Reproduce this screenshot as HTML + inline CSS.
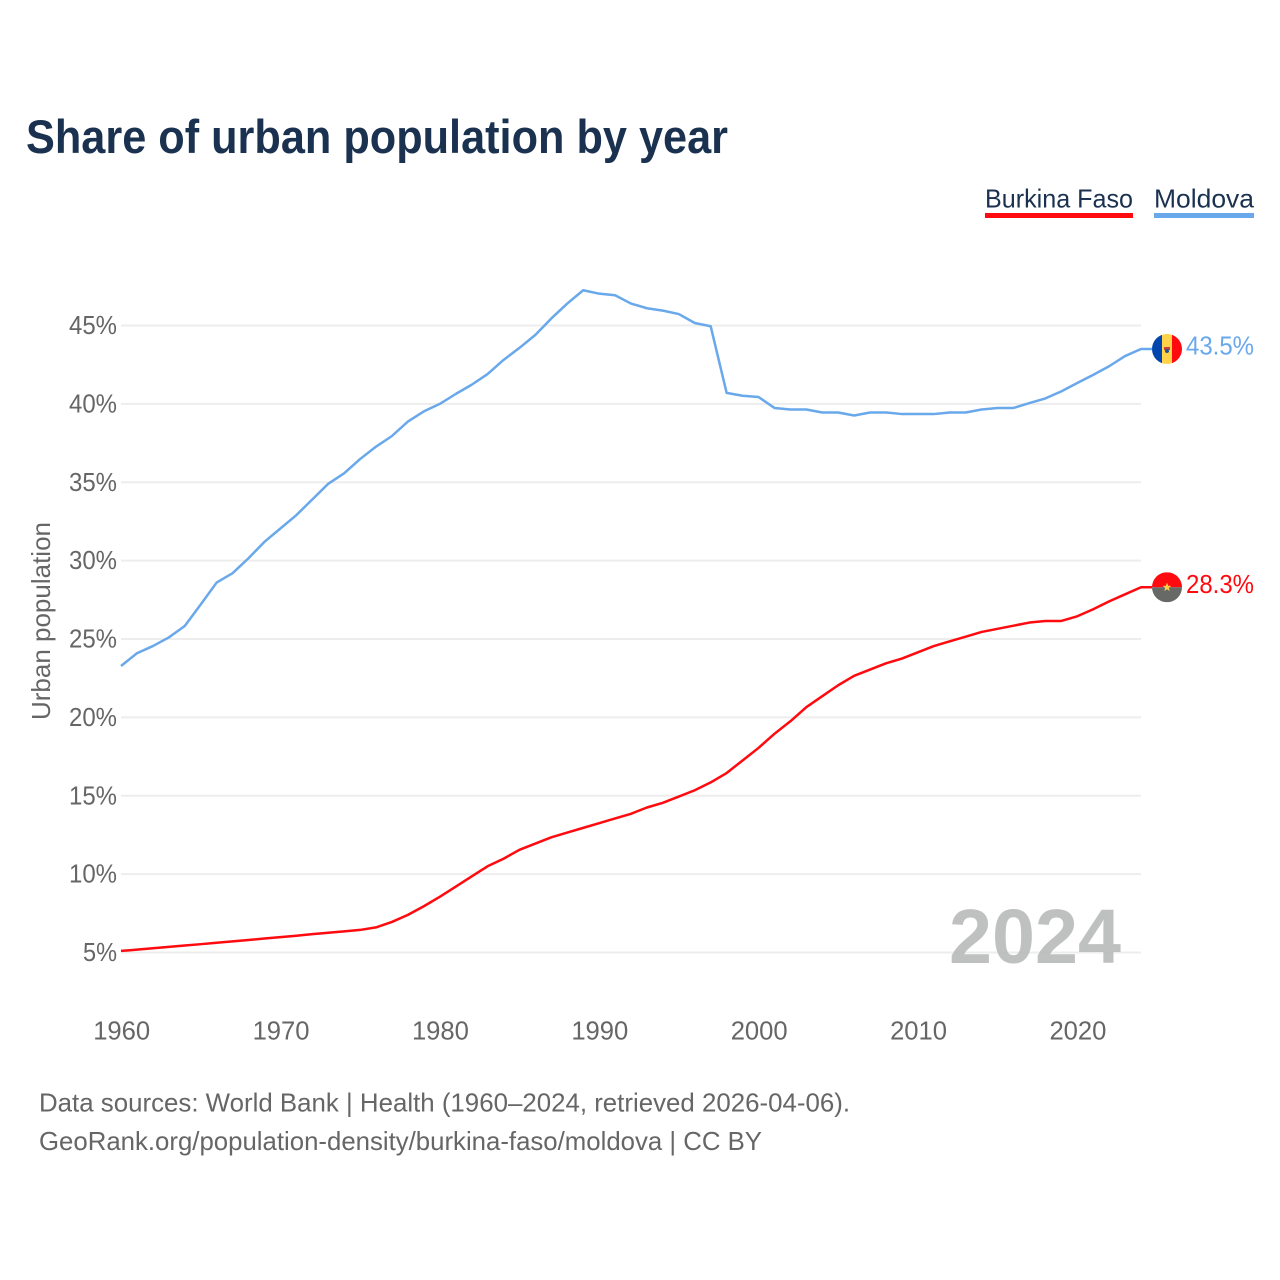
<!DOCTYPE html>
<html lang="en">
<head>
<meta charset="utf-8">
<title>Share of urban population by year</title>
<style>
html,body{margin:0;padding:0;background:#fff;}
svg{display:block;font-family:"Liberation Sans",sans-serif;}
</style>
</head>
<body>
<svg id="chart" xmlns="http://www.w3.org/2000/svg" width="1280" height="1280" viewBox="0 0 1280 1280">
  <defs>
    <clipPath id="clip-moldova"><circle id="clip-moldova-circle" r="15"></circle></clipPath>
    <clipPath id="clip-burkina"><circle id="clip-burkina-circle" r="15"></circle></clipPath>
  </defs>
  <rect x="0" y="0" width="1280" height="1280" fill="#ffffff"></rect>
  <text x="26" y="153" font-size="47" font-weight="700" fill="#1a3150" textLength="702" lengthAdjust="spacingAndGlyphs">Share of urban population by year</text>

  <g>
    <g>
      <text x="985" y="207.5" font-size="26" fill="#1a3150" textLength="148" lengthAdjust="spacingAndGlyphs">Burkina Faso</text>
      <rect x="985" y="213" width="148" height="5" fill="#ff0a0f"></rect>
    </g>
    <g>
      <text x="1154" y="207.5" font-size="26" fill="#1a3150" textLength="100" lengthAdjust="spacingAndGlyphs">Moldova</text>
      <rect x="1154" y="213" width="100" height="5" fill="#69a8eb"></rect>
    </g>
  </g>

  <g id="grid"></g>
  <g id="y-ticks"></g>
  <g id="x-ticks"></g>

  <text transform="translate(50 720) rotate(-90)" font-size="26" fill="#666666" textLength="198" lengthAdjust="spacingAndGlyphs">Urban population</text>

  <text x="1121" y="963" text-anchor="end" font-size="77" font-weight="700" fill="#b4b6b6" fill-opacity="0.85" textLength="172" lengthAdjust="spacingAndGlyphs">2024</text>

  <g id="series"></g>
  <g id="ends"></g>

  <g>
    <text x="39" y="1111.5" font-size="26" fill="#666666" textLength="811" lengthAdjust="spacingAndGlyphs">Data sources: World Bank | Health (1960–2024, retrieved 2026-04-06).</text>
    <text x="39" y="1150" font-size="26" fill="#666666" textLength="723" lengthAdjust="spacingAndGlyphs">GeoRank.org/population-density/burkina-faso/moldova | CC BY</text>
  </g>
</svg>
<script>
const years = [1960,1961,1962,1963,1964,1965,1966,1967,1968,1969,1970,1971,1972,1973,1974,1975,1976,1977,1978,1979,1980,1981,1982,1983,1984,1985,1986,1987,1988,1989,1990,1991,1992,1993,1994,1995,1996,1997,1998,1999,2000,2001,2002,2003,2004,2005,2006,2007,2008,2009,2010,2011,2012,2013,2014,2015,2016,2017,2018,2019,2020,2021,2022,2023,2024];
const moldovaValues = [23.28,24.09,24.55,25.1,25.83,27.2,28.6,29.2,30.15,31.2,32.05,32.9,33.9,34.9,35.57,36.48,37.27,37.95,38.87,39.52,40.0,40.63,41.22,41.9,42.8,43.57,44.4,45.45,46.4,47.25,47.03,46.93,46.4,46.1,45.95,45.73,45.16,44.95,40.7,40.52,40.44,39.74,39.64,39.64,39.45,39.45,39.26,39.45,39.45,39.35,39.35,39.35,39.45,39.45,39.64,39.74,39.74,40.05,40.35,40.8,41.33,41.85,42.4,43.05,43.5];
const burkinaValues = [5.1,5.18,5.27,5.36,5.45,5.53,5.62,5.71,5.8,5.89,5.98,6.07,6.17,6.26,6.35,6.44,6.6,6.95,7.4,7.95,8.55,9.2,9.85,10.5,10.98,11.55,11.95,12.35,12.65,12.95,13.25,13.55,13.85,14.25,14.55,14.95,15.35,15.85,16.45,17.25,18.05,18.95,19.75,20.65,21.35,22.05,22.65,23.05,23.45,23.75,24.15,24.55,24.85,25.15,25.45,25.65,25.85,26.05,26.15,26.15,26.45,26.9,27.4,27.85,28.3];
const yTickValues = [5,10,15,20,25,30,35,40,45];
const xTickValues = [1960,1970,1980,1990,2000,2010,2020];

const NS = 'http://www.w3.org/2000/svg';
const xScale = function (year) { return 121 + (year - 1960) * (1020 / 64); };
const yScale = function (value) { return 952.5 - (value - 5) * (627 / 40); };

function make(tag, parent, attrs, text) {
  const el = document.createElementNS(NS, tag);
  Object.keys(attrs).forEach(function (k) { el.setAttribute(k, attrs[k]); });
  if (text !== undefined) { el.textContent = text; }
  parent.appendChild(el);
  return el;
}

const gridGroup = document.getElementById('grid');
const yTickGroup = document.getElementById('y-ticks');
yTickValues.forEach(function (t) {
  const line = make('line', gridGroup, { x1: xScale(1960), x2: xScale(2024), y1: yScale(t), y2: yScale(t), stroke: '#ededed', 'stroke-width': 2 });
  
  
  const labelWidth = t < 10 ? 34 : 48;
  const label = make('text', yTickGroup, { x: 117, y: yScale(t) + 8.5, 'text-anchor': 'end', 'font-size': 26, fill: '#666666', textLength: labelWidth, lengthAdjust: 'spacingAndGlyphs' }, t + '%');
  
  
});

const xTickGroup = document.getElementById('x-ticks');
xTickValues.forEach(function (t) {
  const label = make('text', xTickGroup, { x: xScale(t) + 0.7, y: 1039.5, 'text-anchor': 'middle', 'font-size': 26, fill: '#666666', textLength: 57, lengthAdjust: 'spacingAndGlyphs' }, String(t));
  
  
});

function linePath(values) {
  return values.map(function (v, i) {
    return (i ? 'L' : 'M') + xScale(years[i]).toFixed(2) + ' ' + yScale(v).toFixed(2);
  }).join('') + 'H1152';
}

const seriesGroup = document.getElementById('series');
const burkinaLine = make('path', seriesGroup, { d: linePath(burkinaValues), fill: 'none', stroke: '#ff0a0f', 'stroke-width': 2.5, 'stroke-linejoin': 'round' });


const moldovaLine = make('path', seriesGroup, { d: linePath(moldovaValues), fill: 'none', stroke: '#69a8eb', 'stroke-width': 2.5, 'stroke-linejoin': 'round' });



const endGroup = document.getElementById('ends');
const flagX = 1167;

const moldovaEnd = moldovaValues[moldovaValues.length - 1];
const moldovaY = yScale(moldovaEnd);
const moldovaCy = moldovaY;
const moldovaClip = document.getElementById('clip-moldova-circle');
moldovaClip.setAttribute('cx', flagX);
moldovaClip.setAttribute('cy', moldovaCy);
const moldovaFlag = make('g', endGroup, { 'clip-path': 'url(#clip-moldova)' });


make('rect', moldovaFlag, { x: flagX - 15, y: moldovaCy - 15, width: 10, height: 30, fill: '#0046ae' });
make('rect', moldovaFlag, { x: flagX - 5, y: moldovaCy - 15, width: 10, height: 30, fill: '#ffd24a' });
make('rect', moldovaFlag, { x: flagX + 5, y: moldovaCy - 15, width: 10, height: 30, fill: '#ff0a0f' });
make('rect', moldovaFlag, { x: flagX - 3, y: moldovaCy - 2, width: 6, height: 3, fill: '#c8433a' });
make('circle', moldovaFlag, { cx: flagX, cy: moldovaCy + 2, r: 2, fill: '#2a4f8f' });
const moldovaLabel = make('text', endGroup, { x: 1186, y: moldovaY + 5.5, 'font-size': 26, fill: '#69a8eb', textLength: 68, lengthAdjust: 'spacingAndGlyphs' }, moldovaEnd.toFixed(1) + '%');



const burkinaEnd = burkinaValues[burkinaValues.length - 1];
const burkinaY = yScale(burkinaEnd);
const burkinaCy = burkinaY;
const burkinaClip = document.getElementById('clip-burkina-circle');
burkinaClip.setAttribute('cx', flagX);
burkinaClip.setAttribute('cy', burkinaCy);
const burkinaFlag = make('g', endGroup, { 'clip-path': 'url(#clip-burkina)' });


make('rect', burkinaFlag, { x: flagX - 15, y: burkinaCy - 15, width: 30, height: 15, fill: '#ff0a0f' });
make('rect', burkinaFlag, { x: flagX - 15, y: burkinaCy, width: 30, height: 15, fill: '#666966' });
const starR = 4.6;
const starPts = [];
for (let i = 0; i < 10; i++) {
  const r = i % 2 ? starR * 0.42 : starR;
  const a = -Math.PI / 2 + i * Math.PI / 5;
  starPts.push((flagX + r * Math.cos(a)).toFixed(2) + ',' + (burkinaCy + r * Math.sin(a)).toFixed(2));
}
make('polygon', burkinaFlag, { points: starPts.join(' '), fill: '#ffd24a' });
const burkinaLabel = make('text', endGroup, { x: 1186, y: burkinaY + 5.5, 'font-size': 26, fill: '#ff0a0f', textLength: 68, lengthAdjust: 'spacingAndGlyphs' }, burkinaEnd.toFixed(1) + '%');


</script>
</body>
</html>
